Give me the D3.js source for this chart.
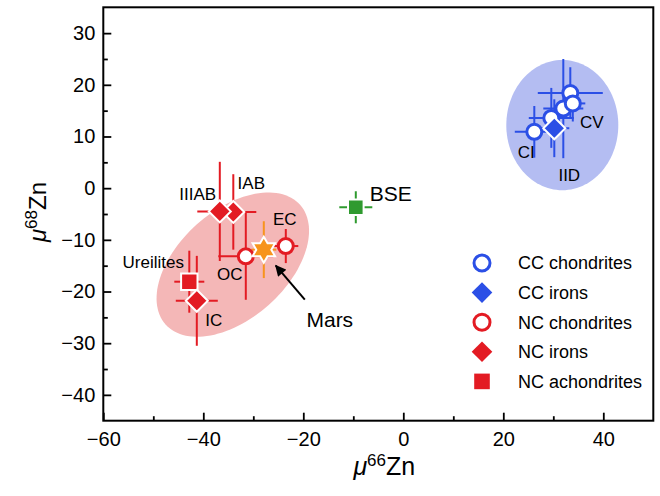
<!DOCTYPE html>
<html><head><meta charset="utf-8">
<script src="https://cdn.jsdelivr.net/npm/d3@7"></script>
<style>
body{margin:0;background:#fff}
svg{display:block;font-family:"Liberation Sans",Arial,Helvetica,sans-serif}
</style>
</head><body>
<svg id="chart" width="660" height="496"></svg>
<script>
// ---------- data ----------
const xDomain = [-60, 50];
const yDomain = [-45, 35];
const xTicks = [-60, -40, -20, 0, 20, 40];
const xMinorTicks = [-50, -30, -10, 10, 30];
const yTicks = [-40, -30, -20, -10, 0, 10, 20, 30];
const yMinorTicks = [-35, -25, -15, -5, 5, 15, 25];

const ccChondNames = ["CI", "CM", "CO", "CR", "CV"];
const ccChondX = [26.2, 29.6, 32.0, 33.4, 33.9];
const ccChondY = [10.9, 13.6, 15.4, 18.4, 16.4];
const ccChondXErr = [3.9, 4.5, 4.0, 6.5, 2.5];
const ccChondYErr = [5.0, 5.8, 9.6, 5.0, 3.5];

const ccIronNames = ["IID"];
const ccIronX = [30.2];
const ccIronY = [11.6];
const ccIronXErr = [3.0];
const ccIronYErr = [5.6];

const ncChondNames = ["OC", "EC"];
const ncChondX = [-31.5, -23.5];
const ncChondY = [-13.2, -11.2];
const ncChondXErr = [5.5, 2.5];
const ncChondYErr = [8.4, 3.3];

const ncIronNames = ["IAB", "IIIAB", "IC"];
const ncIronX = [-34.0, -36.7, -41.3];
const ncIronY = [-4.6, -4.5, -21.8];
const ncIronXErr = [4.6, 4.5, 4.2];
const ncIronYErr = [7.3, 9.6, 8.7];

const ncAchNames = ["Ureilites"];
const ncAchX = [-42.8];
const ncAchY = [-18.1];
const ncAchXErr = [3.0];
const ncAchYErr = [6.0];

const marsX = [-27.9], marsY = [-11.9], marsXErr = [2.5], marsYErr = [5.5];
const bseX = [-9.5], bseY = [-3.7], bseXErr = [3.3], bseYErr = [3.1];

// group fields (center, semi-axis vectors in data units)
const ccFieldCenter = [31.8, 12.2], ccFieldAxes = [[11.2, 0], [0, 12.6]];
const ncFieldCenter = [-34.1, -14.8], ncFieldAxes = [[13.45, 11.58], [7.18, -7.8]];

const legendLabels = ["CC chondrites", "CC irons", "NC chondrites", "NC irons", "NC achondrites"];

// ---------- styles ----------
const BLUE = "#2b4fe6", RED = "#e31b23", GREEN = "#2f9a2f", ORANGE = "#f7941d";
const BLUE_FIELD = "#b4bdf2", RED_FIELD = "#f4b7b7";

const svg = d3.select("#chart");
const M = {left: 103.3, right: 653.3, top: 7.3, bottom: 420.7};
const x = d3.scaleLinear().domain(xDomain).range([M.left, M.right]);
const y = d3.scaleLinear().domain(yDomain).range([M.bottom, M.top]);

// ---------- fields ----------
function fieldPath(c, ax) {
  const pts = d3.range(0, 361, 3).map(a => {
    const t = a * Math.PI / 180;
    return [x(c[0] + ax[0][0] * Math.cos(t) + ax[1][0] * Math.sin(t)),
            y(c[1] + ax[0][1] * Math.cos(t) + ax[1][1] * Math.sin(t))];
  });
  return d3.line().curve(d3.curveLinearClosed)(pts);
}
svg.append("path").attr("d", fieldPath(ccFieldCenter, ccFieldAxes)).attr("fill", BLUE_FIELD);
svg.append("path").attr("d", fieldPath(ncFieldCenter, ncFieldAxes)).attr("fill", RED_FIELD);

// ---------- axes ----------
svg.append("g").attr("transform", `translate(0,${M.bottom})`)
  .call(d3.axisBottom(x).tickValues(xTicks).tickSizeInner(-8).tickSizeOuter(0).tickPadding(11)
    .tickFormat(d => d < 0 ? "\u2212" + Math.abs(d) : d));
svg.append("g").attr("transform", `translate(0,${M.bottom})`)
  .call(d3.axisBottom(x).tickValues(xMinorTicks).tickSizeInner(-4.5).tickSizeOuter(0).tickFormat(""));
svg.append("g").attr("transform", `translate(${M.left},0)`)
  .call(d3.axisLeft(y).tickValues(yTicks).tickSizeInner(-8).tickSizeOuter(0).tickPadding(8)
    .tickFormat(d => d < 0 ? "\u2212" + Math.abs(d) : d));
svg.append("g").attr("transform", `translate(${M.left},0)`)
  .call(d3.axisLeft(y).tickValues(yMinorTicks).tickSizeInner(-4.5).tickSizeOuter(0).tickFormat(""));
svg.selectAll(".domain").remove();
svg.selectAll(".tick line").attr("stroke", "#000").attr("stroke-width", 1.8);
svg.selectAll(".tick text").attr("font-size", 20).attr("fill", "#000")
  .attr("font-family", '"Liberation Sans",Arial,sans-serif');

svg.append("rect").attr("x", M.left).attr("y", M.top)
  .attr("width", M.right - M.left).attr("height", M.bottom - M.top)
  .attr("fill", "none").attr("stroke", "#000").attr("stroke-width", 2);

// axis titles
const xt = svg.append("text").attr("x", (M.left + M.right) / 2 + 6).attr("y", 475)
  .attr("text-anchor", "middle").attr("font-size", 25);
xt.append("tspan").attr("font-style", "italic").text("\u03bc");
xt.append("tspan").attr("font-size", 17).attr("dy", -9).text("66");
xt.append("tspan").attr("dy", 9).text("Zn");

const yt = svg.append("text").attr("transform", "translate(46,212) rotate(-90)")
  .attr("text-anchor", "middle").attr("font-size", 24);
yt.append("tspan").attr("font-style", "italic").text("\u03bc");
yt.append("tspan").attr("font-size", 17).attr("dy", -9).text("68");
yt.append("tspan").attr("dy", 9).text("Zn");

// ---------- helpers ----------
function rows(names, X, Y, XE, YE) {
  return X.map((v, i) => ({name: names ? names[i] : "", x: v, y: Y[i], xe: XE[i], ye: YE[i]}));
}
const ccChond = rows(ccChondNames, ccChondX, ccChondY, ccChondXErr, ccChondYErr);
const ccIron = rows(ccIronNames, ccIronX, ccIronY, ccIronXErr, ccIronYErr);
const ncChond = rows(ncChondNames, ncChondX, ncChondY, ncChondXErr, ncChondYErr);
const ncIron = rows(ncIronNames, ncIronX, ncIronY, ncIronXErr, ncIronYErr);
const ncAch = rows(ncAchNames, ncAchX, ncAchY, ncAchXErr, ncAchYErr);
const mars = rows(["Mars"], marsX, marsY, marsXErr, marsYErr);
const bse = rows(["BSE"], bseX, bseY, bseXErr, bseYErr);

function errorBars(data, color) {
  const g = svg.append("g").attr("stroke", color).attr("stroke-width", 2);
  data.forEach(d => {
    g.append("line").attr("x1", x(d.x - d.xe)).attr("x2", x(d.x + d.xe))
      .attr("y1", y(d.y)).attr("y2", y(d.y));
    g.append("line").attr("x1", x(d.x)).attr("x2", x(d.x))
      .attr("y1", y(d.y - d.ye)).attr("y2", y(d.y + d.ye));
  });
}
errorBars(ccChond, BLUE); errorBars(ccIron, BLUE);
errorBars(ncChond, RED); errorBars(ncIron, RED); errorBars(ncAch, RED);
errorBars(bse, GREEN); errorBars(mars, ORANGE);

const diamond = s => `M0,${-s}L${s},0L0,${s}L${-s},0Z`;
const square = s => `M${-s},${-s}H${s}V${s}H${-s}Z`;
function hexagram(R) {
  const r = R / Math.sqrt(3);
  const p = d3.range(12).map(i => {
    const a = -Math.PI / 2 + i * Math.PI / 6;
    const rr = i % 2 === 0 ? R : r;
    return [rr * Math.cos(a), rr * Math.sin(a)];
  });
  return "M" + p.map(q => q.join(",")).join("L") + "Z";
}

function circles(data, color) {
  svg.append("g").selectAll("circle").data(data).join("circle")
    .attr("cx", d => x(d.x)).attr("cy", d => y(d.y)).attr("r", 7.5)
    .attr("fill", "#fff").attr("stroke", color).attr("stroke-width", 3);
}
function shapes(data, color, path, stroke) {
  svg.append("g").selectAll("path").data(data).join("path")
    .attr("transform", d => `translate(${x(d.x)},${y(d.y)})`).attr("d", path)
    .attr("fill", color).attr("stroke", stroke).attr("stroke-width", 2).attr("stroke-linejoin", "miter");
}
circles(ccChond, BLUE);
shapes(ccIron, BLUE, diamond(11), "#fff");
circles(ncChond, RED);
shapes(ncAch, RED, square(8.2), "#fff");
shapes(ncIron, RED, diamond(11), "#fff");
shapes(bse, GREEN, square(7.8), "#fff");
shapes(mars, ORANGE, hexagram(13), "#fff");

// ---------- labels ----------
const pointLabels = [
  {p: ccChond[0], dx: -8, dy: 20, fs: 17},
  {p: ccChond[4], dx: 19, dy: 18, fs: 17},
  {p: ccIron[0], dx: 15, dy: 47, fs: 17},
  {p: ncIron[1], dx: -22, dy: -18, fs: 17},
  {p: ncIron[0], dx: 18, dy: -29, fs: 17},
  {p: ncChond[1], dx: -1, dy: -27, fs: 17},
  {p: ncChond[0], dx: -16, dy: 18, fs: 17},
  {p: ncAch[0], dx: -36, dy: -20, fs: 17},
  {p: ncIron[2], dx: 17, dy: 19, fs: 17},
  {p: bse[0], dx: 35, dy: -14, fs: 21},
  {p: mars[0], dx: 66, dy: 70, fs: 21}
];
svg.append("g").selectAll("text").data(pointLabels).join("text")
  .attr("x", d => x(d.p.x) + d.dx).attr("y", d => y(d.p.y) + d.dy)
  .attr("dy", "0.36em").attr("text-anchor", "middle").attr("font-size", d => d.fs)
  .text(d => d.p.name);

// Mars arrow
svg.append("defs").append("marker").attr("id", "ah").attr("viewBox", "0 0 10 10")
  .attr("refX", 9).attr("refY", 5).attr("markerWidth", 6).attr("markerHeight", 5.5)
  .attr("markerUnits", "strokeWidth").attr("orient", "auto")
  .append("path").attr("d", "M0,0L10,5L0,10Z").attr("fill", "#000");
svg.append("line")
  .attr("x1", x(mars[0].x) + 41).attr("y1", y(mars[0].y) + 50)
  .attr("x2", x(mars[0].x) + 12).attr("y2", y(mars[0].y) + 16)
  .attr("stroke", "#000").attr("stroke-width", 2).attr("marker-end", "url(#ah)");

// ---------- legend ----------
const lg = svg.append("g").attr("transform", "translate(482,263)");
const legendMarks = [
  g => g.append("circle").attr("r", 8).attr("fill", "#fff").attr("stroke", BLUE).attr("stroke-width", 3),
  g => g.append("path").attr("d", diamond(10.3)).attr("fill", BLUE),
  g => g.append("circle").attr("r", 8).attr("fill", "#fff").attr("stroke", RED).attr("stroke-width", 3),
  g => g.append("path").attr("d", diamond(10.3)).attr("fill", RED),
  g => g.append("path").attr("d", square(7.8)).attr("fill", RED)
];
legendLabels.forEach((t, i) => {
  const g = lg.append("g").attr("transform", `translate(0,${i * 29.6})`);
  legendMarks[i](g);
  g.append("text").attr("x", 36).attr("dy", "0.36em").attr("font-size", 18).text(t);
});
</script>
</body></html>
